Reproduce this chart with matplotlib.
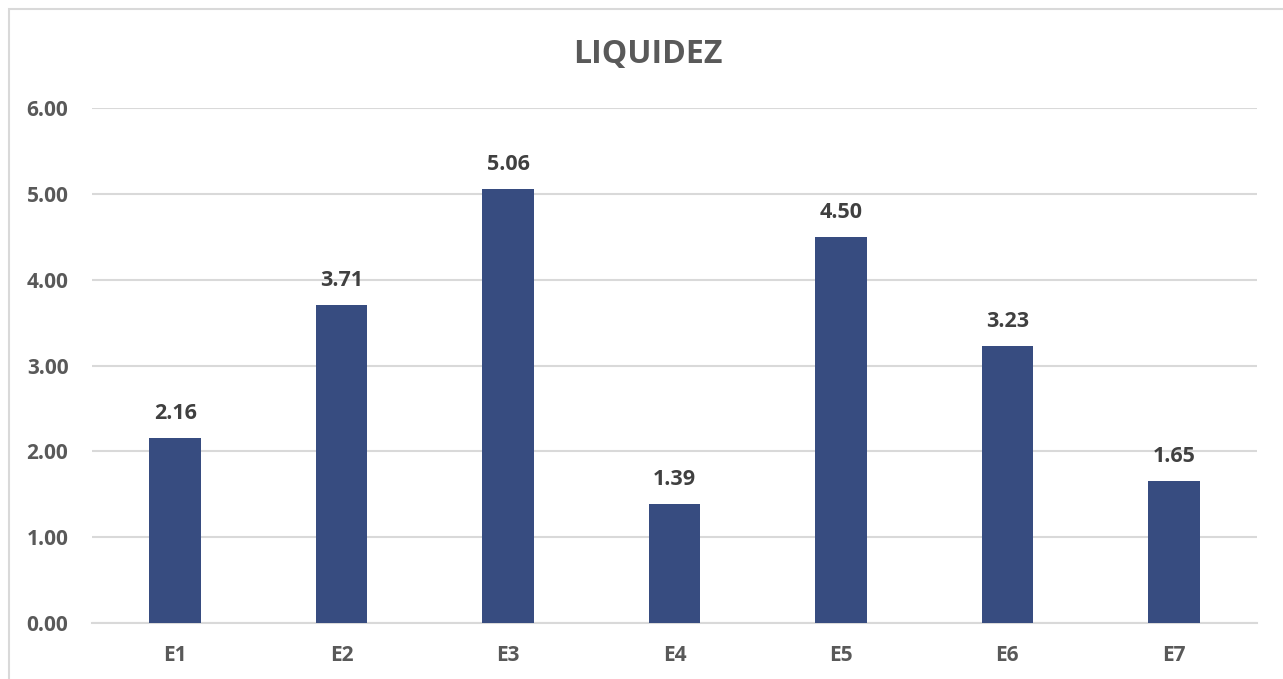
import matplotlib.pyplot as plt
from matplotlib.patches import Rectangle

categories = ['E1', 'E2', 'E3', 'E4', 'E5', 'E6', 'E7']
values = [2.16, 3.71, 5.06, 1.39, 4.50, 3.23, 1.65]
yticks = [0, 1, 2, 3, 4, 5, 6]

bar_color = '#374C80'
text_color = '#595959'
grid_color = '#D9D9D9'

plt.rcParams['font.family'] = ['Open Sans', 'DejaVu Sans']

fig = plt.figure(figsize=(12.83, 6.79), dpi=100)
ax = fig.add_axes([92 / 1283, 1 - 623 / 679, 1165 / 1283, 515 / 679])

# chart frame (only left/top visible in the crop)
fig.patches.append(Rectangle((9 / 1283, -0.1), 1.2, 1 - 9 / 679 + 0.1,
                             transform=fig.transFigure, fill=False,
                             edgecolor=grid_color, linewidth=1.5))

x = range(len(categories))
ax.bar(x, values, width=0.31, color=bar_color, zorder=3)

for xi, v in zip(x, values):
    ax.annotate(f'{v:.2f}', (xi, v), xytext=(0, 10), textcoords='offset points',
                ha='center', va='bottom', fontsize=15.5, fontweight='bold', color='#404040')

ax.set_xlim(-0.5, len(categories) - 0.5)
ax.set_ylim(0, 6)
ax.set_yticks(yticks)
ax.set_yticklabels([f'{t:.2f}' for t in yticks])
ax.set_xticks(list(x))
ax.set_xticklabels(categories)
ax.grid(axis='y', color=grid_color, linewidth=1.5, zorder=0)
ax.tick_params(length=0, labelsize=15, labelcolor=text_color)
ax.tick_params(axis='y', pad=17)
ax.tick_params(axis='x', pad=16)
for lbl in ax.get_xticklabels() + ax.get_yticklabels():
    lbl.set_fontweight('bold')
for s in ['top', 'right', 'left']:
    ax.spines[s].set_visible(False)
ax.spines['bottom'].set_color(grid_color)
ax.spines['bottom'].set_linewidth(1.5)

fig.text(648 / 1283, 1 - 55 / 679, 'LIQUIDEZ', ha='center', va='center',
         fontsize=23, fontweight='bold', color=text_color)

fig.savefig('out.png', dpi=100, facecolor='white')
